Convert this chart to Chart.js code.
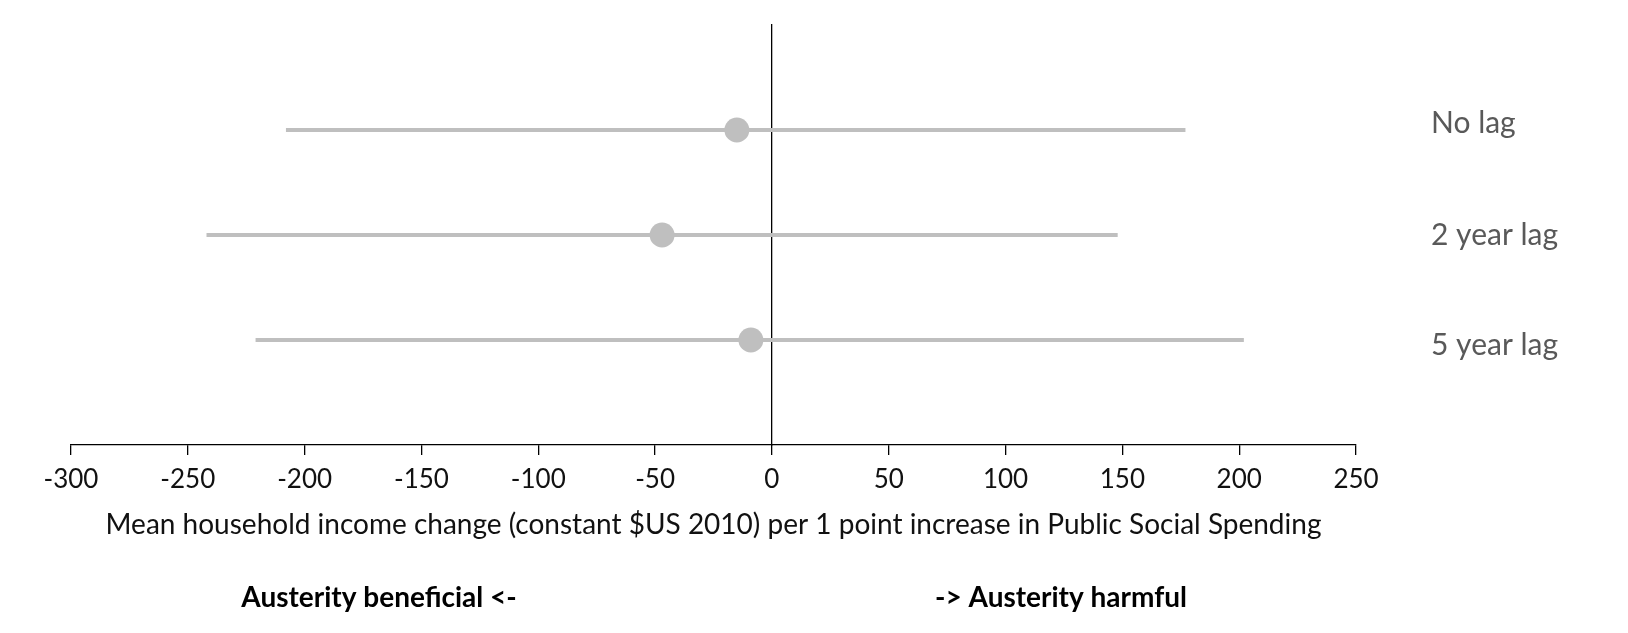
<!DOCTYPE html>
<html>
<head>
<meta charset="utf-8">
<title>Mean household income change per 1 point increase in Public Social Spending</title>
<script src="https://cdn.jsdelivr.net/npm/chart.js@4.4.0/dist/chart.umd.min.js"></script>
<style>
  body { margin: 0; background: #fff; }
</style>
</head>
<body>
<canvas id="grapLag" width="1628" height="633"></canvas>
<script>
// rows from top to bottom
const lagNames = ["No lag", "2 year lag", "5 year lag"];
const lagRows = [3, 2, 1];
// point estimate and interval ends, $US 2010
const lagEst = [-15, -47, -9];
const lagLow = [-208, -242, -221];
const lagHigh = [177, 148, 202];
const xTicks = [-300, -250, -200, -150, -100, -50, 0, 50, 100, 150, 200, 250];

const xTitle = "Mean household income change (constant $US 2010) per 1 point increase in Public Social Spending";
const noteLeft = "Austerity beneficial <-";
const noteRight = "-> Austerity harmful";

const grayMark = "#bfbfbf";
const fontFam = "Lato, 'Open Sans', sans-serif";

// one line per row for the interval, then the dots on top
var datasets = [];
for (var i = 0; i < lagNames.length; i++) {
    datasets.push({
        type: 'line',
        label: lagNames[i],
        data: [{ x: lagLow[i], y: lagRows[i] }, { x: lagHigh[i], y: lagRows[i] }],
        borderColor: grayMark,
        borderWidth: 4,
        pointRadius: 0,
        fill: false
    });
}
datasets.push({
    type: 'scatter',
    label: 'estimate',
    data: lagEst.map((v, i) => ({ x: v, y: lagRows[i] })),
    backgroundColor: grayMark,
    borderWidth: 0,
    pointRadius: 12.5,
    pointHoverRadius: 12.5
});

// row names to the right and the two notes below the axis
const lagText = {
    id: 'lagText',
    afterDraw(chart) {
        const ctx = chart.ctx;
        const y = chart.scales.y;
        const area = chart.chartArea;
        var nudge = [-7, 0, 5];
        ctx.save();
        ctx.font = "30px " + fontFam;
        ctx.fillStyle = "#595959";
        ctx.textAlign = "left";
        ctx.textBaseline = "middle";
        for (var i = 0; i < lagNames.length; i++) {
            ctx.fillText(lagNames[i], area.right + 75, y.getPixelForValue(lagRows[i]) + nudge[i]);
        }
        ctx.font = "bold 28px " + fontFam;
        ctx.fillStyle = "#000";
        ctx.textAlign = "center";
        ctx.fillText(noteLeft, 379, 598);
        ctx.fillText(noteRight, 1061, 598);
        ctx.restore();
    }
};

const grapLag = document.getElementById('grapLag').getContext('2d');
let config_grapLag = {
    type: 'scatter',
    data: { datasets: datasets },
    options: {
        responsive: false,
        animation: false,
        layout: { padding: { left: 71, right: 272, top: 25, bottom: 0 } },
        scales: {
            x: {
                type: 'linear',
                position: 'bottom',
                min: -300,
                max: 250,
                afterBuildTicks: function(scale) {
                    scale.ticks = xTicks.map(v => ({ value: v }));
                },
                afterFit: function(scale) {
                    scale.height = 188;
                },
                border: { display: true, color: "#000", width: 1.3 },
                grid: {
                    drawOnChartArea: false,
                    drawTicks: true,
                    tickLength: 10,
                    color: "#000",
                    lineWidth: 1.3
                },
                ticks: {
                    color: "#111",
                    padding: 9,
                    font: { size: 26, family: fontFam }
                },
                title: {
                    display: true,
                    text: xTitle,
                    color: "#111",
                    padding: { top: 0, bottom: 91 },
                    font: { size: 28, family: fontFam }
                }
            },
            y: {
                type: 'linear',
                position: { x: 0 },
                min: 0,
                max: 4,
                border: { display: true, color: "#000", width: 1.3 },
                grid: { display: false },
                ticks: { display: false }
            }
        },
        plugins: {
            legend: { display: false },
            tooltip: { enabled: false }
        }
    },
    plugins: [lagText]
};
const grapLagChart = new Chart(grapLag, config_grapLag);
</script>
</body>
</html>
